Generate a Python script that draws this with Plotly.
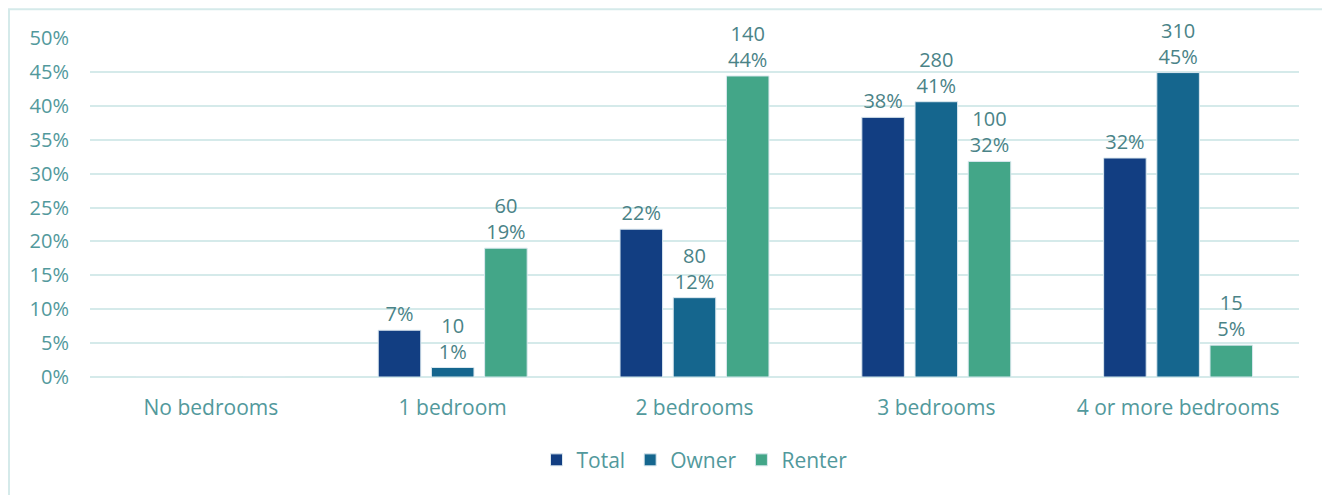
import plotly.graph_objects as go

categories = ["No bedrooms", "1 bedroom", "2 bedrooms", "3 bedrooms", "4 or more bedrooms"]
total_pct = [0.0, 0.069, 0.218, 0.383, 0.323]
owner_pct = [0.0, 0.014, 0.117, 0.406, 0.449]
renter_pct = [0.0, 0.190, 0.444, 0.318, 0.047]
owner_counts = [None, 10, 80, 280, 310]
renter_counts = [None, 60, 140, 100, 15]

COLORS = {
    "total": "#123e82",
    "owner": "#15668e",
    "renter": "#43a688",
    "axis_text": "#52999c",
    "label_text": "#4a8387",
    "grid": "#d5eaea",
}
FONT = "Open Sans, Lato, sans-serif"


def _pct_labels(vals):
    return ["" if v == 0 else f"{round(v * 100):.0f}%" for v in vals]


def _count_labels(vals, counts):
    out = []
    for v, c in zip(vals, counts):
        out.append("" if c is None else f"{c}<br>{round(v * 100):.0f}%")
    return out


fig = go.Figure()
series = [
    ("Total", total_pct, _pct_labels(total_pct), COLORS["total"]),
    ("Owner", owner_pct, _count_labels(owner_pct, owner_counts), COLORS["owner"]),
    ("Renter", renter_pct, _count_labels(renter_pct, renter_counts), COLORS["renter"]),
]
for name, vals, labels, color in series:
    fig.add_trace(go.Bar(
        x=categories, y=vals, name=name,
        text=labels, textposition="outside", cliponaxis=False,
        textfont=dict(family=FONT, size=20, color=COLORS["label_text"]),
        marker=dict(color=color, line=dict(color="#dbe8ef", width=1)),
    ))

# page body has an 8px margin, so the figure is sized/offset to compensate
fig.update_layout(
    width=1322, height=487,
    margin=dict(l=82, r=31, t=30, b=118, autoexpand=False),
    paper_bgcolor="white", plot_bgcolor="white",
    barmode="group", bargap=0.34, bargroupgap=0.2,
    font=dict(family=FONT, size=20, color=COLORS["axis_text"]),
    showlegend=True,
    legend=dict(orientation="h", x=0.5, xanchor="center", y=-0.185, yanchor="top",
                font=dict(size=21, color=COLORS["axis_text"]),
                itemwidth=30, traceorder="normal", tracegroupgap=0),
    uniformtext=dict(mode=False),
)
fig.update_yaxes(range=[0, 0.5], dtick=0.05, tickformat=".0%",
                 showgrid=True, gridcolor=COLORS["grid"], gridwidth=2,
                 zeroline=True, zerolinecolor=COLORS["grid"], zerolinewidth=2,
                 showline=False, ticks="", ticklabelstandoff=20,
                 tickfont=dict(size=20, color=COLORS["axis_text"]))
fig.update_xaxes(showline=False, ticks="", ticklabelstandoff=16,
                 tickfont=dict(size=21, color=COLORS["axis_text"]))

# light teal frame around the chart area
fig.add_shape(type="rect", xref="paper", yref="paper",
              x0=-0.0670, x1=1.0199, y0=-0.6, y1=1.085,
              line=dict(color=COLORS["grid"], width=2), layer="below")

fig.write_html("out.html")
